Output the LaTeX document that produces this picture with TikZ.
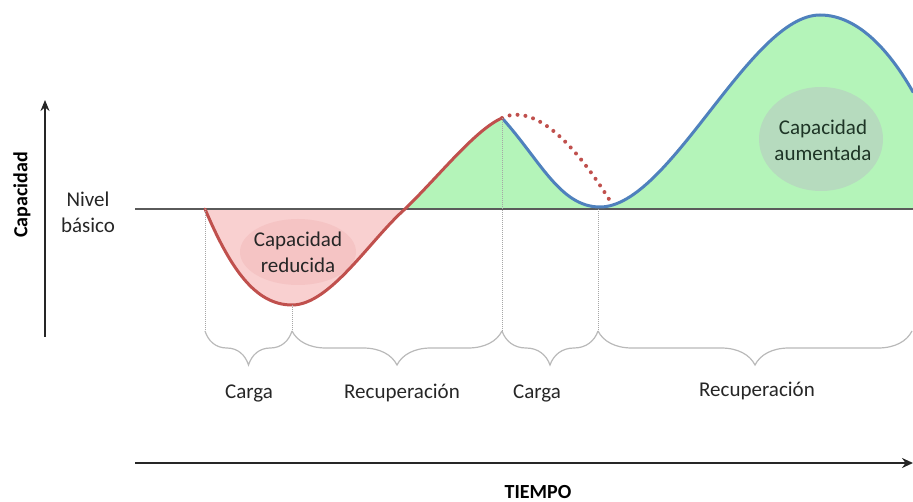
\documentclass[tikz,border=0pt]{standalone}
\usepackage{fontspec}
\setmainfont{Carlito}
\usepackage{tikz}
\usetikzlibrary{arrows.meta,decorations.pathreplacing}
\definecolor{curvered}{HTML}{C0504D}
\definecolor{curveblue}{HTML}{4F81BD}
\definecolor{fillgreen}{HTML}{B4F4B9}
\definecolor{fillpink}{HTML}{F9D0D0}
\definecolor{pinkshade}{HTML}{F5C4C4}
\definecolor{greenshade}{HTML}{B6DBBE}
\definecolor{basegray}{HTML}{5A5A5A}
\definecolor{inkgray}{HTML}{262626}
\definecolor{inkgreen}{HTML}{1E3526}

\begin{document}
\begin{tikzpicture}[x=1pt,y=-1pt,
		txt/.style={font=\fontsize{21}{26}\selectfont, text=inkgray, align=center, inner sep=0pt},
		bold/.style={font=\fontsize{20}{24}\selectfont\bfseries, text=black, inner sep=0pt},
		guide/.style={gray!70, densely dotted, line width=1pt},
		phase/.style={decorate, decoration={brace,mirror,amplitude=34pt}, gray!55, line width=1.2pt},
		curve/.style={line width=3pt, line cap=round}]
		\useasboundingbox (0,0) rectangle (913,502);
		% key points of the curve
		\coordinate (start) at (205,209);
		\coordinate (low) at (292,305);
		\coordinate (cross) at (405,209);
		\coordinate (peak) at (502,118);
		\coordinate (dip) at (600,207);
		\coordinate (top) at (820,15);
		\coordinate (edge) at (913,92);
		\coordinate (ghost) at (612,204);
		% brace ends
		\coordinate (b1) at (205,331);
		\coordinate (b2) at (292,331);
		\coordinate (b3) at (502,331);
		\coordinate (b4) at (598,331);
		\coordinate (b5) at (912,331);
		% fills
		\fill[fillpink] (start) .. controls (230,268) and (255,305) .. (low) .. controls (330,305) and (370,240) .. (cross) -- cycle;
		\fill[fillgreen] (cross) .. controls (440,175) and (475,130) .. (peak) .. controls (540,160) and (560,207) .. (dip) .. controls (670,207) and (750,15) .. (top) .. controls (860,15) and (892,55) .. (edge) -- (913,209) -- cycle;
		\fill[pinkshade] (298,252) ellipse [x radius=58, y radius=33];
		\fill[greenshade] (821,139) ellipse [x radius=62, y radius=52];
		% base level
		\coordinate (base0) at (135,209);
		\coordinate (base1) at (913,209);
		\draw[basegray, line width=2pt] (base0) -- (base1);
		% curves
		\draw[curvered, curve] (start) .. controls (230,268) and (255,305) .. (low) .. controls (330,305) and (370,240) .. (cross) .. controls (440,175) and (475,130) .. (peak);
		\draw[curveblue, curve] (peak) .. controls (540,160) and (560,207) .. (dip) .. controls (670,207) and (750,15) .. (top) .. controls (860,15) and (892,55) .. (edge);
		\draw[curvered, line width=4pt, line cap=round, dash pattern=on 0pt off 8pt] (peak) .. controls (540,100) and (585,160) .. (ghost);
		% guides and braces
		\draw[guide] (start) -- (b1);
		\draw[guide] (low) -- (b2);
		\draw[guide] (peak) -- (b3);
		\draw[guide] (598,209) -- (b4);
		\draw[phase] (b1) -- (b2);
		\draw[phase] (b2) -- (b3);
		\draw[phase] (b3) -- (b4);
		\draw[phase] (b4) -- (b5);
		\node[txt] (load1) at (249,393) {Carga};
		\node[txt] (rec1) at (402,393) {Recuperación};
		\node[txt] (load2) at (537,393) {Carga};
		\node[txt] (rec2) at (757,391) {Recuperación};
		% axes
		\coordinate (y0) at (45,337);
		\coordinate (y1) at (45,100);
		\coordinate (t0) at (135,463);
		\coordinate (t1) at (913,463);
		\draw[-{Stealth[length=11pt,width=9pt]}, line width=2.2pt, black!85] (y0) -- (y1);
		\draw[-{Stealth[length=11pt,width=10pt]}, line width=2.8pt, black!85] (t0) -- (t1);
		\node[bold, rotate=90] (ylabel) at (22,195) {Capacidad};
		\node[bold] (xlabel) at (538,492) {TIEMPO};
		\node[txt] (baselabel) at (88,212) {Nivel\\básico};
		\node[txt] (lowlabel) at (298,252) {Capacidad\\reducida};
		\node[txt, text=inkgreen] (highlabel) at (823,140) {Capacidad\\aumentada};
\end{tikzpicture}
\end{document}
